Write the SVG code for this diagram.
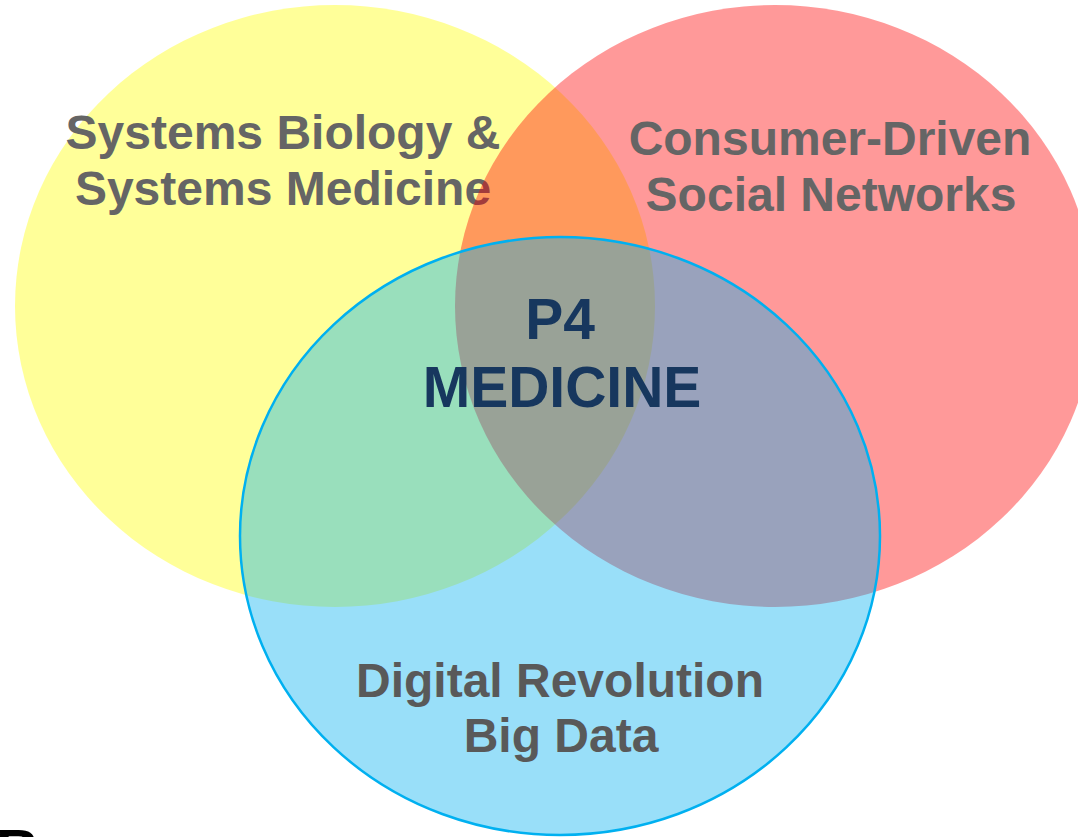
<svg xmlns="http://www.w3.org/2000/svg" width="1078" height="837" viewBox="0 0 1078 837">
  <style>
    .set { opacity: 0.4; }
    .lbl { font-family: "Liberation Sans", Arial, sans-serif; font-weight: bold; font-size: 48px; text-anchor: middle; }
    .top { fill: #656565; }
    .bottom { fill: #595959; }
    .core { font-family: "Liberation Sans", Arial, sans-serif; font-weight: bold; font-size: 57px; text-anchor: middle; fill: #17375E; }
  </style>
  <rect width="1078" height="837" fill="#FFFFFF"/>

  <!-- Systems biology set -->
  <g id="systems-biology">
    <ellipse class="set" cx="335" cy="306" rx="320" ry="301" fill="#FFFF00"/>
    <text class="lbl top" x="283" y="149">Systems Biology &amp;</text>
    <text class="lbl top" x="283" y="205">Systems Medicine</text>
  </g>

  <!-- Social networks set -->
  <g id="social-networks">
    <ellipse class="set" cx="775" cy="306" rx="320" ry="301" fill="#FF0000"/>
    <text class="lbl top" x="830" y="155">Consumer-Driven</text>
    <text class="lbl top" x="831" y="211">Social Networks</text>
  </g>

  <!-- Digital revolution set -->
  <g id="digital-revolution">
    <ellipse class="set" cx="560" cy="536" rx="320" ry="299" fill="#00B0F0"/>
    <ellipse cx="560" cy="536" rx="320" ry="299" fill="none" stroke="#00B0F0" stroke-width="2.5"/>
    <text class="lbl bottom" x="560" y="697">Digital Revolution</text>
    <text class="lbl bottom" x="561" y="752">Big Data</text>
  </g>

  <!-- Intersection label -->
  <g id="p4-medicine">
    <text class="core" x="560" y="339">P4</text>
    <text class="core" x="562" y="407">MEDICINE</text>
  </g>

  <!-- Page letter at the lower edge -->
  <text x="-4" y="871" font-family="Liberation Sans, Arial, sans-serif" font-weight="bold" font-size="60" fill="#000000">B</text>
</svg>
